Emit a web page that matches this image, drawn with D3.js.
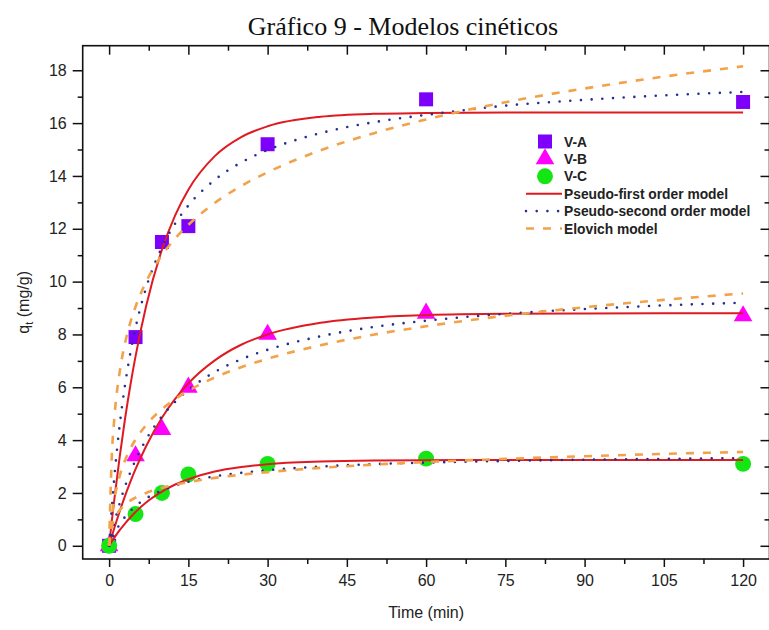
<!DOCTYPE html>
<html>
<head>
<meta charset="utf-8">
<script src="https://cdn.jsdelivr.net/npm/d3@7"></script>
<style>
  html, body { margin: 0; padding: 0; background: #fff; }
  svg { display: block; }
  .tick text { font-family: "Liberation Sans", Arial, sans-serif; }
</style>
</head>
<body>
<script>
// Measured uptake (mg/g) at each sampling time (min)
const times = [0, 5, 10, 15, 30, 60, 120];
const qVA = [0, 7.9, 11.5, 12.1, 15.2, 16.9, 16.8];
const qVB = [0, 3.4, 4.4, 6.0, 8.0, 8.8, 8.7];
const qVC = [0, 1.2, 2.0, 2.7, 3.1, 3.3, 3.1];

// Fitted model curves, sampled along the time axis
const modelTimes = [0, 0.5, 1, 2, 3, 4, 5, 7, 10, 12.5, 15, 20, 25, 30, 40, 50, 60, 75, 90, 105, 120];
const pfoVA = [0, 0.92, 1.78, 3.37, 4.79, 6.05, 7.17, 9.07, 11.21, 12.51, 13.48, 14.75, 15.47, 15.88, 16.24, 16.35, 16.38, 16.40, 16.40, 16.40, 16.40];
const psoVA = [0, 1.41, 2.62, 4.56, 6.07, 7.27, 8.25, 9.76, 11.30, 12.20, 12.88, 13.85, 14.51, 14.98, 15.62, 16.03, 16.31, 16.66, 16.88, 17.05, 17.18];
const eloVA = [0, 3.35, 4.86, 6.58, 7.66, 8.44, 9.05, 9.99, 11.00, 11.63, 12.15, 12.98, 13.62, 14.14, 14.97, 15.61, 16.14, 16.79, 17.31, 17.76, 18.15];
const pfoVB = [0, 0.35, 0.68, 1.30, 1.88, 2.41, 2.90, 3.77, 4.85, 5.56, 6.15, 7.02, 7.61, 8.00, 8.44, 8.64, 8.73, 8.78, 8.79, 8.80, 8.80];
const psoVB = [0, 0.46, 0.88, 1.61, 2.24, 2.77, 3.24, 4.02, 4.90, 5.45, 5.90, 6.58, 7.06, 7.42, 7.93, 8.28, 8.52, 8.78, 8.96, 9.10, 9.20];
const eloVB = [0, 1.09, 1.77, 2.64, 3.23, 3.67, 4.02, 4.57, 5.17, 5.55, 5.87, 6.37, 6.76, 7.08, 7.59, 7.99, 8.31, 8.71, 9.03, 9.31, 9.55];
const pfoVC = [0, 0.16, 0.31, 0.59, 0.84, 1.07, 1.28, 1.64, 2.05, 2.32, 2.52, 2.81, 2.98, 3.09, 3.19, 3.23, 3.24, 3.25, 3.25, 3.25, 3.25];
const psoVC = [0, 0.24, 0.46, 0.81, 1.09, 1.31, 1.50, 1.79, 2.10, 2.28, 2.42, 2.63, 2.76, 2.86, 3.00, 3.09, 3.15, 3.21, 3.26, 3.29, 3.32];
const eloVC = [0, 0.71, 1.01, 1.35, 1.55, 1.71, 1.82, 2.00, 2.19, 2.31, 2.41, 2.57, 2.69, 2.79, 2.95, 3.07, 3.17, 3.29, 3.39, 3.48, 3.55];

// Axis ticks
const xMajor = [0, 15, 30, 45, 60, 75, 90, 105, 120];
const xMinor = [7.5, 22.5, 37.5, 52.5, 67.5, 82.5, 97.5, 112.5];
const yMajor = [0, 2, 4, 6, 8, 10, 12, 14, 16, 18];
const yMinor = [1, 3, 5, 7, 9, 11, 13, 15, 17];

const sampleNames = ["V-A", "V-B", "V-C"];
const modelNames = ["Pseudo-first order model", "Pseudo-second order model", "Elovich model"];

const W = 769, H = 630;
const frame = { left: 82.7, right: 769.5, top: 45.7, bottom: 559 };

const svg = d3.select("body").append("svg").attr("width", W).attr("height", H);

const x = d3.scaleLinear().domain([-5, 125]).range([frame.left, frame.right]);
const y = d3.scaleLinear().domain([-0.5, 18.93]).range([frame.bottom, frame.top]);

const FONT = '"Liberation Sans", Arial, sans-serif';

// Title
svg.append("text")
  .attr("x", 403).attr("y", 35)
  .attr("text-anchor", "middle")
  .attr("font-family", '"Liberation Serif", "Times New Roman", serif')
  .attr("font-size", 26)
  .attr("fill", "#111")
  .text("Gráfico 9 - Modelos cinéticos");

// Axes
function styleAxis(g) {
  g.select(".domain").remove();
  g.selectAll(".tick line").attr("stroke", "#111").attr("stroke-width", 1.5);
  g.selectAll(".tick text").attr("fill", "#222").attr("font-size", 16).attr("font-family", FONT);
}

svg.append("g").attr("transform", `translate(0,${frame.bottom})`)
  .call(d3.axisBottom(x).tickValues(xMajor).tickSize(8).tickPadding(8).tickFormat(d3.format("d")))
  .call(styleAxis);
svg.append("g").attr("transform", `translate(0,${frame.bottom})`)
  .call(d3.axisBottom(x).tickValues(xMinor).tickSize(5).tickFormat(""))
  .call(styleAxis);
svg.append("g").attr("transform", `translate(0,${frame.top})`)
  .call(d3.axisTop(x).tickValues(xMajor).tickSize(-9).tickFormat(""))
  .call(styleAxis);
svg.append("g").attr("transform", `translate(0,${frame.top})`)
  .call(d3.axisTop(x).tickValues(xMinor).tickSize(-5).tickFormat(""))
  .call(styleAxis);

svg.append("g").attr("transform", `translate(${frame.left},0)`)
  .call(d3.axisLeft(y).tickValues(yMajor).tickSize(10).tickPadding(6).tickFormat(d3.format("d")))
  .call(styleAxis);
svg.append("g").attr("transform", `translate(${frame.left},0)`)
  .call(d3.axisLeft(y).tickValues(yMinor).tickSize(5).tickFormat(""))
  .call(styleAxis);
svg.append("g").attr("transform", `translate(${frame.right},0)`)
  .call(d3.axisRight(y).tickValues(yMajor).tickSize(-9).tickFormat(""))
  .call(styleAxis);
svg.append("g").attr("transform", `translate(${frame.right},0)`)
  .call(d3.axisRight(y).tickValues(yMinor).tickSize(-5).tickFormat(""))
  .call(styleAxis);

// Frame
svg.append("rect")
  .attr("x", frame.left).attr("y", frame.top)
  .attr("width", frame.right - frame.left).attr("height", frame.bottom - frame.top)
  .attr("fill", "none").attr("stroke", "#111").attr("stroke-width", 1.6);

// Axis titles
svg.append("text")
  .attr("x", (x(0) + x(120)) / 2).attr("y", 618)
  .attr("text-anchor", "middle")
  .attr("font-family", FONT).attr("font-size", 16).attr("fill", "#222")
  .text("Time (min)");

const yTitle = svg.append("text")
  .attr("transform", `translate(29,${(frame.top + frame.bottom) / 2}) rotate(-90)`)
  .attr("text-anchor", "middle")
  .attr("font-family", FONT).attr("font-size", 16).attr("fill", "#222");
yTitle.append("tspan").text("q");
yTitle.append("tspan").attr("font-size", 11).attr("dy", 4).text("t");
yTitle.append("tspan").attr("dy", -4).text(" (mg/g)");

// Series styles
const markerStyle = [
  { type: d3.symbolSquare, size: 196, fill: "#7d00fb" },
  { type: d3.symbolTriangle, size: 150, fill: "#ff00ff" },
  { type: d3.symbolCircle, size: 200, fill: "#14e614" }
];
const lineStyle = [
  { stroke: "#e01a22", width: 2, dash: null, cap: "butt" },
  { stroke: "#24308f", width: 2.6, dash: "0 10.7", cap: "round" },
  { stroke: "#f2a24a", width: 2.6, dash: "8 9", cap: "butt" }
];

const samples = [qVA, qVB, qVC];
const models = [
  [pfoVA, pfoVB, pfoVC],
  [psoVA, psoVB, psoVC],
  [eloVA, eloVB, eloVC]
];

const plot = svg.append("g");

// Measured points
samples.forEach((vals, i) => {
  const st = markerStyle[i];
  plot.append("g").selectAll("path")
    .data(times.map((t, j) => [t, vals[j]]))
    .join("path")
    .attr("transform", d => `translate(${x(d[0])},${y(d[1])})`)
    .attr("d", d3.symbol().type(st.type).size(st.size))
    .attr("fill", st.fill);
});

// Model curves
const line = d3.line().x(d => x(d[0])).y(d => y(d[1])).curve(d3.curveMonotoneX);
models.forEach((set, m) => {
  const st = lineStyle[m];
  set.forEach(vals => {
    plot.append("path")
      .datum(modelTimes.map((t, j) => [t, vals[j]]))
      .attr("d", line)
      .attr("fill", "none")
      .attr("stroke", st.stroke)
      .attr("stroke-width", st.width)
      .attr("stroke-linecap", st.cap)
      .attr("stroke-dasharray", st.dash);
  });
});

// Legend
const legend = svg.append("g");
const rowY = [141.5, 158.9, 176.3, 193.7, 211.1, 228.5];
const symX = 545, textX = 564;
sampleNames.forEach((name, i) => {
  const st = markerStyle[i];
  legend.append("path")
    .attr("transform", `translate(${symX},${rowY[i]})`)
    .attr("d", d3.symbol().type(st.type).size(st.size))
    .attr("fill", st.fill);
  legend.append("text")
    .attr("x", textX).attr("y", rowY[i] + 5)
    .attr("font-family", FONT).attr("font-weight", "bold").attr("font-size", 13.8).attr("fill", "#222")
    .text(name);
});
modelNames.forEach((name, m) => {
  const st = lineStyle[m];
  const yy = rowY[3 + m];
  legend.append("line")
    .attr("x1", 526).attr("x2", 562).attr("y1", yy).attr("y2", yy)
    .attr("stroke", st.stroke).attr("stroke-width", st.width)
    .attr("stroke-linecap", st.cap).attr("stroke-dasharray", st.dash);
  legend.append("text")
    .attr("x", textX).attr("y", yy + 5)
    .attr("font-family", FONT).attr("font-weight", "bold").attr("font-size", 13.8).attr("fill", "#222")
    .text(name);
});
</script>
</body>
</html>
